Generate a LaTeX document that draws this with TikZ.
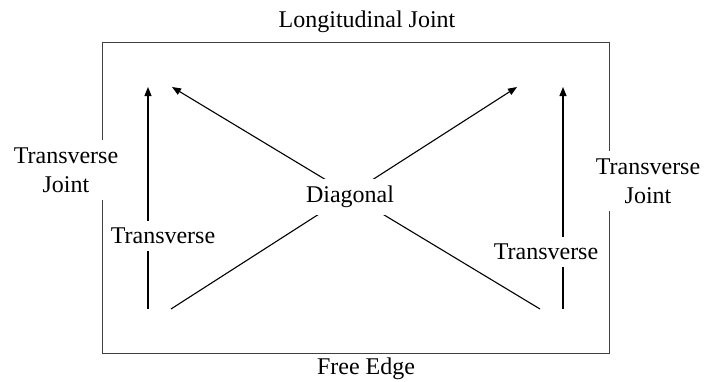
\documentclass[tikz,border=0pt]{standalone}
\usepackage{fontspec}
\setmainfont{Liberation Serif}
\usetikzlibrary{arrows.meta}
\begin{document}
\begin{tikzpicture}[x=1pt,y=-1pt,
  lbl/.style={font=\fontsize{24}{29}\selectfont, inner sep=0pt},
  gaplbl/.style={font=\fontsize{24}{29}\selectfont, fill=white, inner sep=7pt, align=center},
  frame/.style={draw=black!75, line width=1pt},
  arr/.style={draw=black, line width=1.1pt, -{Triangle[length=9pt,width=7pt]}},
  ln/.style={draw=black, line width=1.1pt}]
\useasboundingbox (0,0) rectangle (704,381);
% frame
\coordinate (fa) at (102,42);
\coordinate (fb) at (609,353);
\draw[frame] (fa) rectangle (fb);
% arrow end points
\coordinate (lb) at (148,309);
\coordinate (lt) at (148,87);
\coordinate (rb) at (563,309);
\coordinate (rt) at (563,87);
\coordinate (d1s) at (540,309);
\coordinate (d1e) at (172,87);
\coordinate (d2s) at (171,309);
\coordinate (d2e) at (517,87);
\draw[arr] (lb) -- (lt);
\draw[arr] (rb) -- (rt);
\draw[arr] (d1s) -- (d1e);
\draw[arr] (d2s) -- (d2e);
% labels
\node[lbl, anchor=base] (top) at (367,27) {Longitudinal Joint};
\node[lbl, anchor=base] (bot) at (366,374) {Free Edge};
\node[gaplbl, inner ysep=8pt] (lj) at (66,170) {Transverse\\Joint};
\node[gaplbl, inner ysep=8pt] (rj) at (648,181) {Transverse\\Joint};
\node[gaplbl] (lt1) at (163,236) {Transverse};
\node[gaplbl] (rt1) at (546,252) {Transverse};
\node[gaplbl] (dg) at (350,197) {Diagonal};
\end{tikzpicture}
\end{document}
